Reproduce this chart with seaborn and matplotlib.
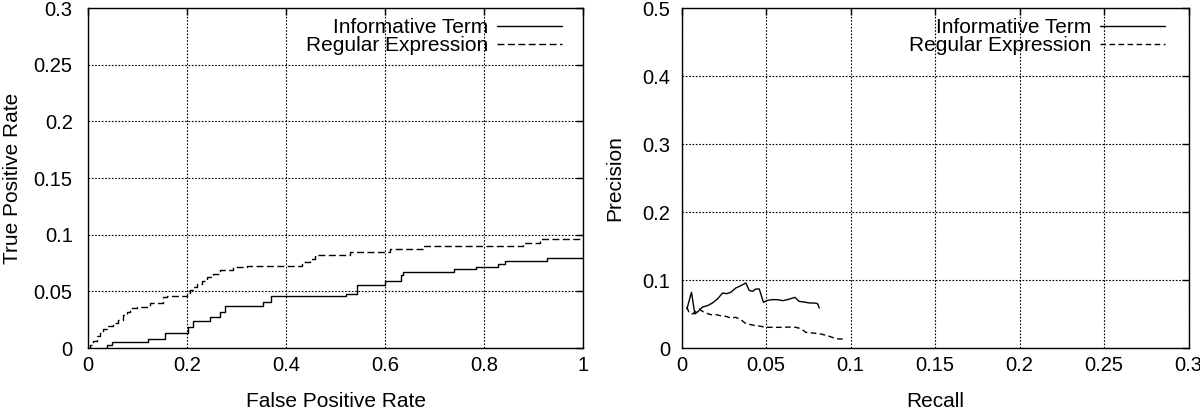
"""ROC and precision/recall curves: informative term vs regular expression."""

import matplotlib
matplotlib.use("Agg")
import matplotlib.pyplot as plt
import pandas as pd
import seaborn as sns

# ROC curve (left panel)
roc_term_fpr = [0.0377, 0.0377, 0.0478, 0.1219, 0.1556, 0.2027, 0.2128, 0.2465, 0.2667,
                0.2768, 0.3529, 0.369, 0.5205, 0.5428, 0.6, 0.6316, 0.6357, 0.74, 0.7832,
                0.829, 0.8424, 0.9266, 1.0]
roc_term_tpr = [0.0, 0.0029, 0.0053, 0.0079, 0.0132, 0.0181, 0.0234, 0.0272, 0.0322,
                0.0374, 0.0404, 0.0456, 0.048, 0.0558, 0.0594, 0.0643, 0.0673, 0.0693,
                0.0716, 0.074, 0.0766, 0.0798, 0.0798]
roc_regex_fpr = [0.0, 0.004, 0.0108, 0.0175, 0.0242, 0.031, 0.0377, 0.0512, 0.0613, 0.0714,
                 0.0781, 0.0848, 0.0983, 0.1253, 0.1522, 0.1603, 0.1993, 0.2061, 0.2128,
                 0.2195, 0.2296, 0.2397, 0.2532, 0.2667, 0.2936, 0.3205, 0.4316, 0.4485,
                 0.4586, 0.5293, 0.6101, 0.6774, 0.8795, 0.9131, 0.9367, 1.0]
roc_regex_tpr = [0.0, 0.0029, 0.0058, 0.0102, 0.0132, 0.017, 0.019, 0.0225, 0.0249, 0.0287,
                 0.0322, 0.0351, 0.0365, 0.0395, 0.0453, 0.0459, 0.0482, 0.0512, 0.0541,
                 0.0564, 0.0594, 0.0623, 0.0649, 0.0687, 0.0716, 0.0722, 0.076, 0.0789,
                 0.0825, 0.0848, 0.0877, 0.0901, 0.093, 0.0962, 0.0962, 0.0962]

# Precision / recall (right panel)
pr_term_recall = [0.0032, 0.0059, 0.0079, 0.0099, 0.0124, 0.0154, 0.0183, 0.0213, 0.0243,
                  0.0268, 0.0292, 0.0321, 0.0351, 0.0381, 0.04, 0.042, 0.044, 0.046, 0.0485,
                  0.0509, 0.0538, 0.0568, 0.0598, 0.0627, 0.0671, 0.0696, 0.0726, 0.0755,
                  0.0785, 0.0805, 0.0815]
pr_term_precision = [0.0574, 0.0819, 0.05, 0.0539, 0.0603, 0.0623, 0.0662, 0.0721, 0.0809,
                     0.0799, 0.0819, 0.0882, 0.0917, 0.0956, 0.0848, 0.0833, 0.0868, 0.0868,
                     0.0672, 0.0701, 0.0711, 0.0711, 0.0696, 0.0711, 0.0745, 0.0686, 0.0676,
                     0.0662, 0.0662, 0.0652, 0.0588]
pr_regex_recall = [0.0032, 0.0045, 0.0065, 0.0085, 0.0105, 0.0124, 0.0144, 0.0174, 0.0203,
                   0.0233, 0.0262, 0.0292, 0.0321, 0.0351, 0.0381, 0.041, 0.044, 0.0469,
                   0.0499, 0.0548, 0.0598, 0.0647, 0.0677, 0.0706, 0.0736, 0.0775, 0.0824,
                   0.0864, 0.0903, 0.0933, 0.0966]
pr_regex_precision = [0.0603, 0.0515, 0.05, 0.0539, 0.0574, 0.0539, 0.0515, 0.049, 0.049,
                      0.0475, 0.0466, 0.0441, 0.0451, 0.0417, 0.0358, 0.0343, 0.0328, 0.0319,
                      0.0304, 0.0304, 0.0304, 0.0309, 0.0304, 0.0284, 0.023, 0.0221, 0.0206,
                      0.0181, 0.0147, 0.0132, 0.0132]

series_names = ["Informative Term", "Regular Expression"]

roc_xticks = [0, 0.2, 0.4, 0.6, 0.8, 1]
roc_xticklabels = ["0", "0.2", "0.4", "0.6", "0.8", "1"]
roc_yticks = [0, 0.05, 0.1, 0.15, 0.2, 0.25, 0.3]
roc_yticklabels = ["0", "0.05", "0.1", "0.15", "0.2", "0.25", "0.3"]
pr_xticks = [0, 0.05, 0.1, 0.15, 0.2, 0.25, 0.3]
pr_xticklabels = ["0", "0.05", "0.1", "0.15", "0.2", "0.25", "0.3"]
pr_yticks = [0, 0.1, 0.2, 0.3, 0.4, 0.5]
pr_yticklabels = ["0", "0.1", "0.2", "0.3", "0.4", "0.5"]

DASH = (0, (5, 2.5))

sns.set_style("white", {"text.color": "black", "axes.labelcolor": "black",
                        "xtick.color": "black", "ytick.color": "black"})
plt.rcParams["font.family"] = ["Liberation Sans", "DejaVu Sans"]
plt.rcParams["font.size"] = 15


def style_axes(ax, xticks, xlabels, yticks, ylabels, xlabel, ylabel, ypad, ylab_x, leg_x):
    ax.set_xlim(xticks[0], xticks[-1])
    ax.set_ylim(yticks[0], yticks[-1])
    ax.set_xticks(xticks, xlabels)
    ax.set_yticks(yticks, ylabels)
    ax.tick_params(direction="in", length=5, width=1, top=True, right=True,
                   labelsize=14.5, colors="black")
    ax.tick_params(axis="x", pad=6)
    ax.tick_params(axis="y", pad=ypad)
    ax.grid(True, color="black", linestyle=(0, (1.5, 1.5)), linewidth=0.8)
    for sp in ax.spines.values():
        sp.set_color("black")
        sp.set_linewidth(1.0)
    ax.set_xlabel(xlabel, fontsize=15)
    ax.set_ylabel(ylabel, fontsize=15)
    ax.xaxis.set_label_coords(0.5, -0.13)
    ax.yaxis.set_label_coords(ylab_x, 0.5)
    ax.legend(loc="upper right", frameon=False, markerfirst=False, fontsize=15,
              handlelength=3.1, handletextpad=0.45, labelspacing=-0.05,
              borderaxespad=0, borderpad=0, bbox_to_anchor=(leg_x, 0.97))


fig = plt.figure(figsize=(12, 4.15), dpi=100)
ax_roc = fig.add_axes([88 / 1200, 67 / 415, 495 / 1200, 340 / 415])
ax_pr = fig.add_axes([681.5 / 1200, 67 / 415, 507 / 1200, 340 / 415])

roc_term = pd.DataFrame({"x": roc_term_fpr, "y": roc_term_tpr})
roc_regex = pd.DataFrame({"x": roc_regex_fpr, "y": roc_regex_tpr})
sns.lineplot(data=roc_term, x="x", y="y", ax=ax_roc, color="black", linewidth=1.0,
             drawstyle="steps-post", estimator=None, sort=False, label=series_names[0])
sns.lineplot(data=roc_regex, x="x", y="y", ax=ax_roc, color="black", linewidth=1.0,
             drawstyle="steps-post", estimator=None, sort=False, linestyle=DASH,
             label=series_names[1])
style_axes(ax_roc, roc_xticks, roc_xticklabels, roc_yticks, roc_yticklabels,
           "False Positive Rate", "True Positive Rate", 11, -0.1333, 0.9576)

pr_term = pd.DataFrame({"x": pr_term_recall, "y": pr_term_precision})
pr_regex = pd.DataFrame({"x": pr_regex_recall, "y": pr_regex_precision})
sns.lineplot(data=pr_term, x="x", y="y", ax=ax_pr, color="black", linewidth=1.0,
             estimator=None, sort=False, label=series_names[0])
sns.lineplot(data=pr_regex, x="x", y="y", ax=ax_pr, color="black", linewidth=1.0,
             estimator=None, sort=False, linestyle=(0, (4, 2.5)), label=series_names[1])
style_axes(ax_pr, pr_xticks, pr_xticklabels, pr_yticks, pr_yticklabels,
           "Recall", "Precision", 8, -0.1134, 0.9536)

fig.savefig("out.png", dpi=100)
